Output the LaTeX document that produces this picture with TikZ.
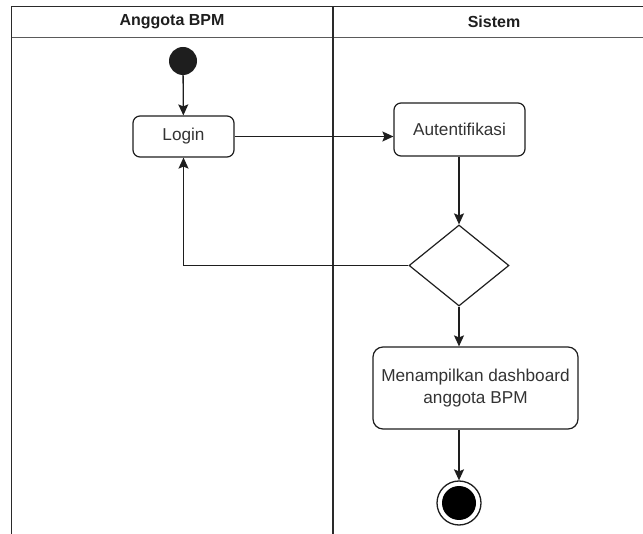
\documentclass[tikz,border=0pt]{standalone}
\usepackage{fontspec}
\setmainfont[Ligatures=NoCommon]{Liberation Sans}
\usetikzlibrary{shapes.geometric,arrows.meta}
\definecolor{ink}{HTML}{1E1E1E}
\definecolor{txt}{HTML}{333333}
\definecolor{lane}{HTML}{2A2A2A}
\definecolor{sep}{HTML}{5A5A5A}
\begin{document}
\begin{tikzpicture}[x=1pt,y=-1pt,
  every node/.style={font=\fontsize{17.2}{21.5}\selectfont, text=txt},
  act/.style={draw=ink, line width=1.2pt, rounded corners=7pt, fill=white, align=center, inner sep=0pt},
  flow/.style={draw=ink, line width=1.3pt, -{Stealth[length=11pt,width=10pt,inset=2pt]}},
  lanehead/.style={font=\bfseries\fontsize{16}{20}\selectfont, text=ink}
]
\useasboundingbox (0,0) rectangle (643,534);

% swimlane frame
\draw[lane, line width=1.3pt] (643,6.5) -- (11.5,6.5) -- (11.5,534);
\draw[sep, line width=1.6pt] (11.5,37.5) -- (643,37.5);
\draw[lane, line width=1.2pt] (333,6.5) -- (333,534);
\node[lanehead] (h1) at (172,22) {Anggota BPM};
\node[lanehead] (h2) at (494,22) {Sistem};

% activity nodes
\node[circle, fill=ink, minimum size=28pt, inner sep=0pt] (start) at (183,61) {};
\node[act, minimum width=101pt, minimum height=41pt] (login) at (183.5,136.5) {Login};
\node[act, minimum width=131pt, minimum height=53pt] (auth) at (459.5,129.5) {Autentifikasi};
\node[diamond, draw=ink, line width=1.2pt, minimum width=100pt, minimum height=81pt, inner sep=0pt] (dec) at (459,265.5) {};
\node[act, minimum width=205pt, minimum height=82pt, rounded corners=10pt] (dash) at (475.5,388) {Menampilkan dashboard\\anggota BPM};
\node[circle, draw=ink, line width=1.3pt, fill=white, minimum size=44pt, inner sep=0pt] (end) at (459,503) {};
\node[circle, fill=black, minimum size=34pt, inner sep=0pt] (endin) at (end.center) {};

% control flow
\draw[flow] (start) -- (login);
\draw[flow] (login.east) -- (login.east -| auth.west);
\draw[flow] (auth.south -| dec.north) -- (dec.north);
\draw[flow] (dec.west) -| (login.south);
\draw[flow] (dec.south) -- (dec.south |- dash.north);
\draw[flow] (end.north |- dash.south) -- (end.north);
\end{tikzpicture}
\end{document}
